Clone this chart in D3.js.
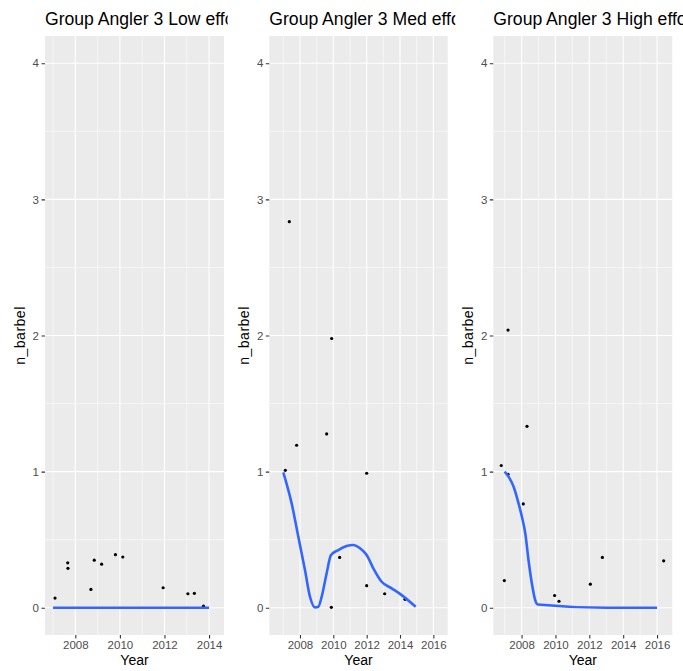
<!DOCTYPE html>
<html>
<head>
<meta charset="utf-8">
<script src="https://cdn.jsdelivr.net/npm/d3@7"></script>
<style>
  body { margin: 0; background: #fff; }
  svg { display: block; font-family: "Liberation Sans", Arial, sans-serif; }
</style>
</head>
<body>
<svg id="chart" width="683" height="671"></svg>
<script>
// panel titles
const titles = ["Group Angler 3 Low effort", "Group Angler 3 Med effort", "Group Angler 3 High effort"];

// observed points (Year, n_barbel)
const lowYear = [2007.09, 2007.66, 2007.67, 2008.70, 2008.85, 2009.18, 2009.80, 2010.13, 2011.94, 2013.05, 2013.34, 2013.75];
const lowN    = [0.071, 0.33, 0.29, 0.135, 0.35, 0.32, 0.39, 0.373, 0.147, 0.103, 0.106, 0.012];
const medYear = [2007.12, 2007.36, 2007.80, 2009.60, 2009.88, 2009.90, 2010.38, 2012.0, 2012.0, 2013.08, 2014.3];
const medN    = [1.01, 2.836, 1.194, 1.277, 0.003, 1.978, 0.37, 0.988, 0.162, 0.103, 0.062];
const highYear = [2006.80, 2006.98, 2007.20, 2007.20, 2008.10, 2008.32, 2009.95, 2010.21, 2012.06, 2012.77, 2016.39];
const highN    = [1.045, 0.20, 2.04, 0.98, 0.763, 1.333, 0.09, 0.048, 0.173, 0.37, 0.345];

// fitted smooth lines
const lowFitYear = [2007, 2008, 2009, 2010, 2011, 2012, 2013, 2014];
const lowFit     = [0, 0, 0, 0, 0, 0, 0, 0];
const medFitYear = [2007.0, 2007.5, 2007.9, 2008.3, 2008.6, 2008.9, 2009.1, 2009.3, 2009.6, 2009.86, 2010.3, 2010.8, 2011.2, 2011.6, 2012.0, 2012.4, 2012.9, 2013.5, 2014.1, 2014.94];
const medFit     = [0.995, 0.767, 0.522, 0.277, 0.081, 0.003, 0.008, 0.08, 0.253, 0.387, 0.424, 0.453, 0.461, 0.437, 0.387, 0.29, 0.191, 0.143, 0.093, 0.007];
const highFitYear = [2007.0, 2007.23, 2007.53, 2007.82, 2008.02, 2008.22, 2008.41, 2008.61, 2008.81, 2008.95, 2013.0, 2016.0];
const highFit     = [1.0, 0.963, 0.889, 0.767, 0.668, 0.546, 0.349, 0.177, 0.054, 0.024, 0.0, 0.0];

// axis ranges and ticks
const xDomains = [[2006.64, 2014.67], [2006.16, 2016.86], [2006.33, 2016.9]];
const xTicks = [[2008, 2010, 2012, 2014], [2008, 2010, 2012, 2014, 2016], [2008, 2010, 2012, 2014, 2016]];
const xMinor = [[2007, 2009, 2011, 2013], [2007, 2009, 2011, 2013, 2015], [2007, 2009, 2011, 2013, 2015]];
const yDomain = [-0.2, 4.2];
const yTicks = [0, 1, 2, 3, 4];
const yMinor = [0.5, 1.5, 2.5, 3.5];

const panels = [
  { x: lowYear, y: lowN, fx: lowFitYear, fy: lowFit },
  { x: medYear, y: medN, fx: medFitYear, fy: medFit },
  { x: highYear, y: highN, fx: highFitYear, fy: highFit }
];

// layout of each sub plot (titles are cut at the sub plot edge, as in the original)
const boxes = [
  { c0: 0, c1: 227.7, left: 45, right: 224 },
  { c0: 227.7, c1: 455.3, left: 269.3, right: 447.7 },
  { c0: 455.3, c1: 683, left: 493.3, right: 672.3 }
];
const plotTop = 36, plotBottom = 635;

const svg = d3.select("#chart");
const defs = svg.append("defs");

panels.forEach((p, i) => {
  const b = boxes[i];
  defs.append("clipPath").attr("id", "clip" + i)
    .append("rect").attr("x", b.c0).attr("y", 0).attr("width", b.c1 - b.c0).attr("height", 671);

  const g = svg.append("g").attr("clip-path", "url(#clip" + i + ")");

  const x = d3.scaleLinear().domain(xDomains[i]).range([b.left, b.right]);
  const y = d3.scaleLinear().domain(yDomain).range([plotBottom, plotTop]);

  g.append("rect")
    .attr("x", b.left).attr("y", plotTop)
    .attr("width", b.right - b.left).attr("height", plotBottom - plotTop)
    .attr("fill", "#EBEBEB");

  // grid
  g.append("g").selectAll("line").data(yMinor).join("line")
    .attr("x1", b.left).attr("x2", b.right)
    .attr("y1", d => y(d)).attr("y2", d => y(d))
    .attr("stroke", "#fff").attr("stroke-width", 0.55);
  g.append("g").selectAll("line").data(xMinor[i]).join("line")
    .attr("x1", d => x(d)).attr("x2", d => x(d))
    .attr("y1", plotTop).attr("y2", plotBottom)
    .attr("stroke", "#fff").attr("stroke-width", 0.55);
  g.append("g").selectAll("line").data(yTicks).join("line")
    .attr("x1", b.left).attr("x2", b.right)
    .attr("y1", d => y(d)).attr("y2", d => y(d))
    .attr("stroke", "#fff").attr("stroke-width", 1.1);
  g.append("g").selectAll("line").data(xTicks[i]).join("line")
    .attr("x1", d => x(d)).attr("x2", d => x(d))
    .attr("y1", plotTop).attr("y2", plotBottom)
    .attr("stroke", "#fff").attr("stroke-width", 1.1);

  // axes
  const xAxis = g.append("g")
    .attr("transform", "translate(0," + plotBottom + ")")
    .call(d3.axisBottom(x).tickValues(xTicks[i]).tickFormat(d3.format("d")).tickSize(3.5).tickPadding(2.5));
  const yAxis = g.append("g")
    .attr("transform", "translate(" + b.left + ",0)")
    .call(d3.axisLeft(y).tickValues(yTicks).tickFormat(d3.format("d")).tickSize(3.5).tickPadding(2.5));
  [xAxis, yAxis].forEach(a => {
    a.select(".domain").remove();
    a.selectAll(".tick line").attr("stroke", "#333333").attr("stroke-width", 1.1);
    a.selectAll(".tick text").attr("fill", "#4D4D4D").style("font-size", "11.5px");
  });

  // points
  g.append("g").selectAll("circle").data(p.x.map((d, k) => [d, p.y[k]])).join("circle")
    .attr("cx", d => x(d[0])).attr("cy", d => y(d[1]))
    .attr("r", 1.6).attr("fill", "#000");

  // smooth
  const line = d3.line().x(d => x(d[0])).y(d => y(d[1])).curve(d3.curveMonotoneX);
  g.append("path")
    .datum(p.fx.map((d, k) => [d, p.fy[k]]))
    .attr("d", line)
    .attr("fill", "none").attr("stroke", "#3366FF").attr("stroke-width", 2.6);

  // labels
  g.append("text").attr("x", b.left).attr("y", 25)
    .style("font-size", "17.6px").attr("fill", "#000").text(titles[i]);
  g.append("text").attr("x", (b.left + b.right) / 2).attr("y", 665)
    .attr("text-anchor", "middle").style("font-size", "14px").attr("fill", "#000").text("Year");
  g.append("text")
    .attr("transform", "translate(" + (b.left - 20) + "," + ((plotTop + plotBottom) / 2) + ") rotate(-90)")
    .attr("text-anchor", "middle").style("font-size", "14px").style("letter-spacing", "0.5px")
    .attr("fill", "#000").text("n_barbel");
});
</script>
</body>
</html>
